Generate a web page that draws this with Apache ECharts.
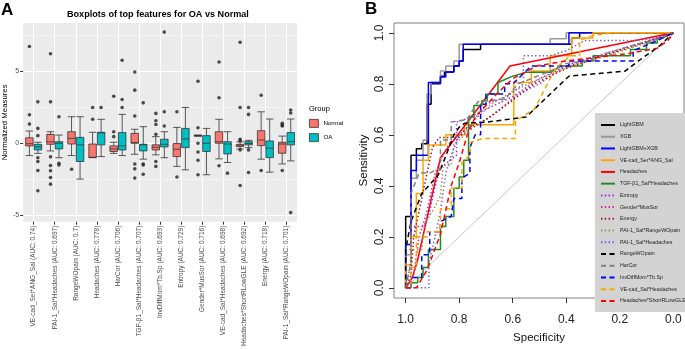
<!DOCTYPE html>
<html>
<head>
<meta charset="utf-8">
<script src="https://cdn.jsdelivr.net/npm/echarts@6/dist/echarts.min.js"></script>
<style>
html,body{margin:0;padding:0;background:#fff;}
#chart{width:685px;height:349px;}
</style>
</head>
<body>
<div id="chart"></div>
<script>
// ---- panel A data ----
var features = ['VE-cad_Ser*ANG_Sal (AUC: 0.74)', 'PAI-1_Sal*Headaches (AUC: 0.697)', 'RangeWOpain (AUC: 0.7)',
	'Headaches (AUC: 0.778)', 'HarCor (AUC: 0.706)', 'TGF-β1_Sal*Headaches (AUC: 0.707)', 'InvDiffMom*Tb.Sp (AUC: 0.693)',
	'Entropy (AUC: 0.729)', 'Gender*MusSor (AUC: 0.716)', 'VE-cad_Sal*Headaches (AUC: 0.698)',
	'Headaches*ShortRLowGLE (AUC: 0.692)', 'Energy (AUC: 0.718)', 'PAI-1_Sal*RangeWOpain (AUC: 0.701)'];
// [lower whisker, Q1, median, Q3, upper whisker]
var normalBoxes = [
	[-0.85, -0.18, -0.03, 0.38, 0.85], [-0.53, -0.07, 0.1, 0.62, 0.8], [-0.85, -0.05, 0.34, 0.8, 1.84],
	[-0.99, -0.99, -0.97, -0.05, 0.76], [-0.7, -0.57, -0.39, -0.18, 0.07], [-0.76, 0.0, 0.05, 0.69, 0.97],
	[-0.8, -0.46, -0.28, -0.11, 0.46], [-1.6, -0.92, -0.41, -0.02, 1.1], [0.5, 0.5, 0.53, 0.56, 0.56],
	[-1.08, 0.0, 0.11, 0.8, 1.66], [-0.4, -0.23, -0.14, -0.07, 0.1], [-1.1, -0.16, 0.23, 0.87, 2.18],
	[-1.43, -0.69, -0.05, 0.07, 0.5]
];
var oaBoxes = [
	[-0.7, -0.46, -0.25, -0.07, 0.07], [-1.0, -0.39, 0.0, 0.11, 0.57], [-2.48, -1.26, -0.11, 0.41, 1.84],
	[-0.92, -0.11, 0.72, 0.76, 1.66], [-0.85, -0.46, -0.18, 0.74, 2.0], [-1.1, -0.53, -0.11, -0.07, 1.15],
	[-1.0, -0.25, -0.07, 0.28, 0.8], [-1.84, -0.3, 0.3, 1.03, 2.48], [-2.18, -0.57, 0.0, 0.53, 1.03],
	[-1.33, -0.74, -0.05, 0.11, 0.8], [-0.3, -0.11, -0.02, 0.11, 0.2], [-2.0, -0.99, -0.34, 0.16, 1.68],
	[-1.22, -0.11, 0.11, 0.74, 1.68]
];
var normalOutliers = [
	[6.7, 1.98, 1.33], [6.2, 2.87, -0.94, -1.54, -1.9, -2.37, -2.83], [-1.8], [2.48, 1.66],
	[3.26, 0.8, 0.46], [4.94, 3.68, 1.89, -1.43, -1.77, -2.41], [2.07, 1.56, 1.3, 0.62, -1.26, -1.6],
	[2.18, -2.34], [4.3, 1.08, 0, -0.6, -1.17, -2.18], [5.63, 3.15, -1.56],
	[7.0, 2.48, 0.28, 0.18, -0.46, -2.92], [3.33, -1.88], [1.38, 1.26, 1.2, -1.88]
];
var oaOutliers = [
	[2.87, 1.03, 0.53, -1.0, -1.26, -1.88, -3.29], [1.84, -1.38, -1.5], [], [2.48],
	[5.75, 3.03, 2.48], [2.8, -1.43, -1.5, -2.14], [7.7, 2.18, 1.2], [], [],
	[-2.07], [2.48, 2.0, -0.46, -2.02], [], [2.3, 2.1, -4.8]
];
var yTicksA = [-5, 0, 5];
var yMinorA = [-2.5, 2.5, 7.5];

// ---- panel B data: [specificity, sensitivity] ----
var rocLightGBM = [[1,0],[1,0.28],[0.98,0.28],[0.98,0.52],[0.96,0.52],[0.96,0.545],[0.94,0.545],[0.94,0.565],[0.92,0.565],[0.92,0.72],[0.905,0.72],[0.905,0.80],[0.87,0.80],[0.87,0.83],[0.855,0.83],[0.855,0.846],[0.82,0.846],[0.82,0.87],[0.80,0.87],[0.80,0.89],[0.785,0.89],[0.785,0.935],[0.72,0.935],[0.72,0.955],[0.38,0.955],[0.38,0.98],[0.35,0.98],[0.35,1],[0,1]];
var rocXGB = [[1,0],[1,0.13],[0.98,0.13],[0.98,0.43],[0.96,0.43],[0.96,0.5],[0.935,0.5],[0.935,0.58],[0.92,0.58],[0.92,0.76],[0.905,0.76],[0.905,0.805],[0.87,0.805],[0.87,0.85],[0.85,0.85],[0.85,0.87],[0.82,0.87],[0.82,0.89],[0.80,0.89],[0.80,0.955],[0.46,0.955],[0.46,0.977],[0.40,0.977],[0.40,1],[0,1]];
var rocLgbXgb = [[1,0],[1,0.17],[0.98,0.17],[0.98,0.46],[0.96,0.46],[0.96,0.52],[0.915,0.52],[0.915,0.805],[0.87,0.805],[0.87,0.827],[0.85,0.827],[0.85,0.846],[0.82,0.846],[0.82,0.87],[0.80,0.87],[0.80,0.89],[0.785,0.89],[0.785,0.955],[0.39,0.955],[0.39,1],[0,1]];
var rocVeCadSer = [[1,0],[1,0.09],[0.98,0.09],[0.98,0.2],[0.96,0.2],[0.96,0.37],[0.935,0.37],[0.935,0.5],[0.915,0.5],[0.915,0.56],[0.85,0.56],[0.85,0.6],[0.78,0.6],[0.78,0.64],[0.596,0.64],[0.596,0.805],[0.53,0.805],[0.53,0.85],[0.46,0.85],[0.46,0.91],[0.38,0.91],[0.38,0.98],[0.30,0.98],[0.30,1],[0,1]];
var rocHeadaches = [[1,0],[0.975,0.04],[0.955,0.11],[0.87,0.51],[0.61,0.87],[0,1]];
var rocTgf = [[1,0],[0.98,0],[0.98,0.02],[0.955,0.02],[0.955,0.04],[0.935,0.04],[0.935,0.08],[0.915,0.08],[0.915,0.15],[0.87,0.15],[0.87,0.24],[0.85,0.24],[0.85,0.28],[0.82,0.28],[0.82,0.39],[0.80,0.39],[0.80,0.435],[0.783,0.435],[0.783,0.5],[0.765,0.5],[0.765,0.67],[0.745,0.67],[0.745,0.715],[0.715,0.715],[0.715,0.735],[0.695,0.735],[0.695,0.76],[0.655,0.76],[0.655,0.805],[0.60,0.83],[0.55,0.845],[0.46,0.845],[0.42,0.87],[0.34,0.87],[0.34,0.89],[0.30,0.89],[0.30,0.91],[0.16,0.91],[0.16,0.935],[0.10,0.935],[0.10,0.96],[0.06,0.96],[0.06,0.98],[0.04,0.98],[0,1]];
var rocEntropy = [[1,0],[0.98,0.1],[0.98,0.24],[0.93,0.24],[0.91,0.3],[0.89,0.4],[0.87,0.47],[0.81,0.52],[0.81,0.65],[0.78,0.66],[0.70,0.70],[0.60,0.75],[0.50,0.82],[0.38,0.88],[0.25,0.92],[0.12,0.96],[0,1]];
var rocGender = [[1,0],[0.97,0.05],[0.95,0.2],[0.92,0.3],[0.89,0.45],[0.86,0.52],[0.83,0.58],[0.79,0.6],[0.67,0.68],[0.58,0.76],[0.50,0.80],[0.42,0.86],[0.30,0.90],[0.15,0.95],[0,1]];
var rocEnergy = [[1,0],[0.98,0.05],[0.97,0.2],[0.95,0.3],[0.92,0.45],[0.90,0.55],[0.875,0.59],[0.80,0.59],[0.78,0.62],[0.70,0.66],[0.62,0.72],[0.52,0.80],[0.40,0.86],[0.20,0.93],[0.05,0.98],[0,1]];
var rocPaiRange = [[1,0],[1,0.15],[0.94,0.15],[0.93,0.25],[0.90,0.30],[0.87,0.36],[0.86,0.48],[0.83,0.48],[0.82,0.56],[0.78,0.60],[0.74,0.66],[0.68,0.72],[0.60,0.77],[0.50,0.82],[0.38,0.87],[0.25,0.91],[0.10,0.96],[0,1]];
var rocPaiHead = [[1,0],[0.913,0],[0.913,0.1],[0.89,0.2],[0.87,0.3],[0.85,0.45],[0.83,0.52],[0.80,0.6],[0.75,0.65],[0.70,0.72],[0.62,0.75],[0.56,0.8],[0.56,0.91],[0.46,0.91],[0.40,0.93],[0.33,0.97],[0.15,0.97],[0.05,0.98],[0,1]];
var rocRange = [[1,0],[1,0.15],[0.98,0.26],[0.94,0.37],[0.88,0.44],[0.86,0.49],[0.82,0.6],[0.80,0.63],[0.78,0.645],[0.695,0.65],[0.55,0.67],[0.49,0.73],[0.39,0.83],[0.18,0.85],[0.13,0.89],[0.05,0.95],[0,1]];
var rocHarCor = [[1,0],[0.98,0.1],[0.98,0.37],[0.95,0.45],[0.91,0.45],[0.87,0.47],[0.87,0.58],[0.83,0.58],[0.83,0.65],[0.77,0.66],[0.73,0.73],[0.63,0.74],[0.58,0.8],[0.46,0.85],[0.40,0.88],[0.30,0.89],[0.25,0.92],[0.12,0.96],[0.04,0.98],[0,1]];
var rocInvDiff = [[1,0],[0.98,0],[0.98,0.04],[0.94,0.04],[0.94,0.13],[0.91,0.13],[0.91,0.22],[0.87,0.22],[0.87,0.26],[0.83,0.28],[0.82,0.35],[0.79,0.35],[0.79,0.43],[0.76,0.45],[0.76,0.55],[0.74,0.6],[0.72,0.6],[0.72,0.72],[0.70,0.72],[0.70,0.76],[0.63,0.76],[0.63,0.8],[0.60,0.8],[0.53,0.87],[0.39,0.87],[0.39,0.89],[0.15,0.89],[0.15,0.93],[0.08,0.96],[0,1]];
var rocVeCadSal = [[1,0],[0.98,0],[0.98,0.08],[0.96,0.08],[0.96,0.2],[0.92,0.2],[0.92,0.22],[0.87,0.22],[0.87,0.31],[0.83,0.31],[0.83,0.39],[0.79,0.39],[0.79,0.49],[0.76,0.52],[0.76,0.57],[0.71,0.586],[0.59,0.586],[0.59,0.655],[0.52,0.70],[0.47,0.80],[0.44,0.86],[0.385,0.91],[0.35,0.91],[0.35,0.97],[0.30,0.99],[0.22,1],[0,1]];
var rocHeadShort = [[1,0],[0.96,0],[0.92,0.07],[0.87,0.21],[0.83,0.40],[0.80,0.49],[0.77,0.60],[0.74,0.67],[0.66,0.76],[0.60,0.82],[0.51,0.87],[0.40,0.89],[0.16,0.92],[0.06,0.94],[0.02,0.97],[0,1]];
var rocDiagonal = [[1,0],[0,1]];
var rocTicks = [0, 0.2, 0.4, 0.6, 0.8, 1.0];

var solid = 'solid', dashed = [5, 3.5], dotted = [1.4, 2.4];
var rocSpecs = [
	{ name: 'LightGBM', data: rocLightGBM, color: '#000000', type: solid },
	{ name: 'XGB', data: rocXGB, color: '#999999', type: solid },
	{ name: 'LightGBM+XGB', data: rocLgbXgb, color: '#0000FF', type: solid },
	{ name: 'VE-cad_Ser*ANG_Sal', data: rocVeCadSer, color: '#FFA500', type: solid },
	{ name: 'Headaches', data: rocHeadaches, color: '#FF0000', type: solid },
	{ name: 'TGF-β1_Sal*Headaches', data: rocTgf, color: '#228B22', type: solid },
	{ name: 'Entropy', data: rocEntropy, color: '#A020F0', type: dotted },
	{ name: 'Gender*MusSor', data: rocGender, color: '#D02090', type: dotted },
	{ name: 'Energy', data: rocEnergy, color: '#8B1A1A', type: dotted },
	{ name: 'PAI-1_Sal*RangeWOpain', data: rocPaiRange, color: '#A68A3A', type: dotted },
	{ name: 'PAI-1_Sal*Headaches', data: rocPaiHead, color: '#6A5ACD', type: dotted },
	{ name: 'RangeWOpain', data: rocRange, color: '#000000', type: dashed },
	{ name: 'HarCor', data: rocHarCor, color: '#808080', type: dashed },
	{ name: 'InvDiffMom*Tb.Sp', data: rocInvDiff, color: '#0000FF', type: dashed },
	{ name: 'VE-cad_Sal*Headaches', data: rocVeCadSal, color: '#FFA500', type: dashed },
	{ name: 'Headaches*ShortRLowGLE', data: rocHeadShort, color: '#FF0000', type: dashed }
];

var chart = echarts.init(document.getElementById('chart'), null, { renderer: 'canvas' });
var font = 'Liberation Sans, Arial, sans-serif';

function outlierPoints(list, shift) {
	var pts = [];
	list.forEach(function (vals, i) {
		vals.forEach(function (v) { pts.push([i + shift, v]); });
	});
	return pts;
}

var series = [
	{
		name: 'Normal', type: 'boxplot', xAxisIndex: 0, yAxisIndex: 0,
		boxWidth: [7.5, 7.5], data: normalBoxes,
		itemStyle: { color: '#F8766D', borderColor: '#333333', borderWidth: 0.8 }
	},
	{
		name: 'OA', type: 'boxplot', xAxisIndex: 0, yAxisIndex: 0,
		boxWidth: [7.5, 7.5], data: oaBoxes,
		itemStyle: { color: '#00BFC4', borderColor: '#333333', borderWidth: 0.8 }
	},
	{
		name: 'normalOut', type: 'scatter', xAxisIndex: 1, yAxisIndex: 0,
		symbolSize: 3.6, data: outlierPoints(normalOutliers, -0.2),
		itemStyle: { color: '#222222' }, z: 3
	},
	{
		name: 'oaOut', type: 'scatter', xAxisIndex: 1, yAxisIndex: 0,
		symbolSize: 3.6, data: outlierPoints(oaOutliers, 0.2),
		itemStyle: { color: '#222222' }, z: 3
	},
	{
		name: 'diag', type: 'line', xAxisIndex: 2, yAxisIndex: 2,
		data: rocDiagonal, symbol: 'none', z: 1,
		lineStyle: { color: '#C8C8C8', width: 1 }
	}
];
rocSpecs.forEach(function (s) {
	series.push({
		name: s.name, type: 'line', xAxisIndex: 2, yAxisIndex: 2,
		data: s.data, symbol: 'none', showSymbol: false,
		itemStyle: { color: s.color },
		lineStyle: { color: s.color, width: 1.5, type: s.type }
	});
});

var option = {
	animation: false,
	textStyle: { fontFamily: font },
	title: [
		{ text: 'A', left: 1, top: 2, padding: 0, textStyle: { fontSize: 17, fontWeight: 'bold', color: '#000', fontFamily: font } },
		{ text: 'B', left: 365, top: 1, padding: 0, textStyle: { fontSize: 17, fontWeight: 'bold', color: '#000', fontFamily: font } },
		{ text: 'Boxplots of top features for OA vs Normal', left: 67, top: 10, padding: 0,
			textStyle: { fontSize: 9.1, fontWeight: 'bold', color: '#000', fontFamily: font } },
		{ text: 'Group', left: 309, top: 105, padding: 0, textStyle: { fontSize: 7.5, fontWeight: 'normal', color: '#000', fontFamily: font } }
	],
	graphic: [
		{ type: 'rect', z: 3, shape: { x: 595, y: 113, width: 92, height: 199 }, style: { fill: '#D3D3D3' } }
	],
	legend: [
		{
			data: [
				{ name: 'Normal', itemStyle: { color: '#F8766D', borderColor: '#333333', borderWidth: 0.8 } },
				{ name: 'OA', itemStyle: { color: '#00BFC4', borderColor: '#333333', borderWidth: 0.8 } }
			],
			orient: 'vertical', left: 309, top: 119, padding: 0,
			icon: 'rect', itemWidth: 9, itemHeight: 8, itemGap: 5.4,
			textStyle: { fontSize: 6.2, color: '#000', fontFamily: font }
		},
		{
			data: rocSpecs.map(function (s) { return s.name; }), orient: 'vertical',
			left: 600, top: 122, padding: 0, z: 5,
			itemWidth: 14, itemHeight: 6, itemGap: 5.73,
			itemStyle: { opacity: 0 },
			textStyle: { fontSize: 5.3, lineHeight: 6, color: '#222', fontFamily: font }
		}
	],
	grid: [
		{ left: 23, top: 23, width: 274, height: 200, show: true, backgroundColor: '#EBEBEB', borderWidth: 0 },
		{ left: 394, top: 23, width: 290, height: 290, show: true, backgroundColor: 'transparent', borderColor: '#808080', borderWidth: 1 }
	],
	xAxis: [
		{
			type: 'category', gridIndex: 0, data: features, position: 'bottom',
			axisLine: { show: false, onZero: false },
			axisTick: { show: true, alignWithLabel: true, interval: 0, length: 3, lineStyle: { color: '#333' } },
			axisLabel: { rotate: 90, interval: 0, fontSize: 6.5, color: '#4D4D4D', margin: 4 },
			splitLine: { show: false }
		},
		{
			type: 'value', gridIndex: 0, min: -0.5, max: 12.5, position: 'top',
			axisLine: { show: false, onZero: false }, axisLabel: { show: false },
			axisTick: { show: false, customValues: [0, 1, 2, 3, 4, 5, 6, 7, 8, 9, 10, 11, 12] },
			splitLine: { show: true, lineStyle: { color: '#FFFFFF', width: 1 } }
		},
		{
			type: 'value', gridIndex: 1, min: -0.04, max: 1.0436, inverse: true, position: 'bottom',
			axisLine: { show: false, onZero: false },
			axisTick: { show: true, length: 5, customValues: rocTicks, lineStyle: { color: '#333' } },
			axisLabel: { customValues: rocTicks, fontSize: 12, color: '#222', margin: 16,
				formatter: function (v) { return v.toFixed(1); } },
			splitLine: { show: false },
			name: 'Specificity', nameLocation: 'middle', nameGap: 34,
			nameTextStyle: { fontSize: 11.5, color: '#111' }
		}
	],
	yAxis: [
		{
			type: 'value', gridIndex: 0, min: -5.43, max: 8.33, position: 'left',
			axisLine: { show: false, onZero: false },
			axisTick: { show: true, length: 3, customValues: yTicksA, lineStyle: { color: '#333' } },
			axisLabel: { customValues: yTicksA, fontSize: 7, color: '#4D4D4D', margin: 4 },
			splitLine: { show: true, lineStyle: { color: '#FFFFFF', width: 1 } },
			name: 'Normalized Measures', nameLocation: 'middle', nameGap: 11,
			nameTextStyle: { fontSize: 7.8, color: '#000' }
		},
		{
			type: 'value', gridIndex: 0, min: -5.43, max: 8.33, position: 'right',
			axisLine: { show: false, onZero: false }, axisLabel: { show: false },
			axisTick: { show: false, customValues: yMinorA },
			splitLine: { show: true, lineStyle: { color: '#FFFFFF', width: 0.5 } }
		},
		{
			type: 'value', gridIndex: 1, min: -0.04, max: 1.0386, position: 'left',
			axisLine: { show: false, onZero: false },
			axisTick: { show: true, length: 5, customValues: rocTicks, lineStyle: { color: '#333' } },
			axisLabel: { customValues: rocTicks, rotate: 90, fontSize: 12, color: '#222', margin: 8,
				formatter: function (v) { return v.toFixed(1); } },
			splitLine: { show: false },
			name: 'Sensitivity', nameLocation: 'middle', nameGap: 24,
			nameTextStyle: { fontSize: 11.5, color: '#111' }
		}
	],
	series: series
};
chart.setOption(option);
</script>
</body>
</html>
